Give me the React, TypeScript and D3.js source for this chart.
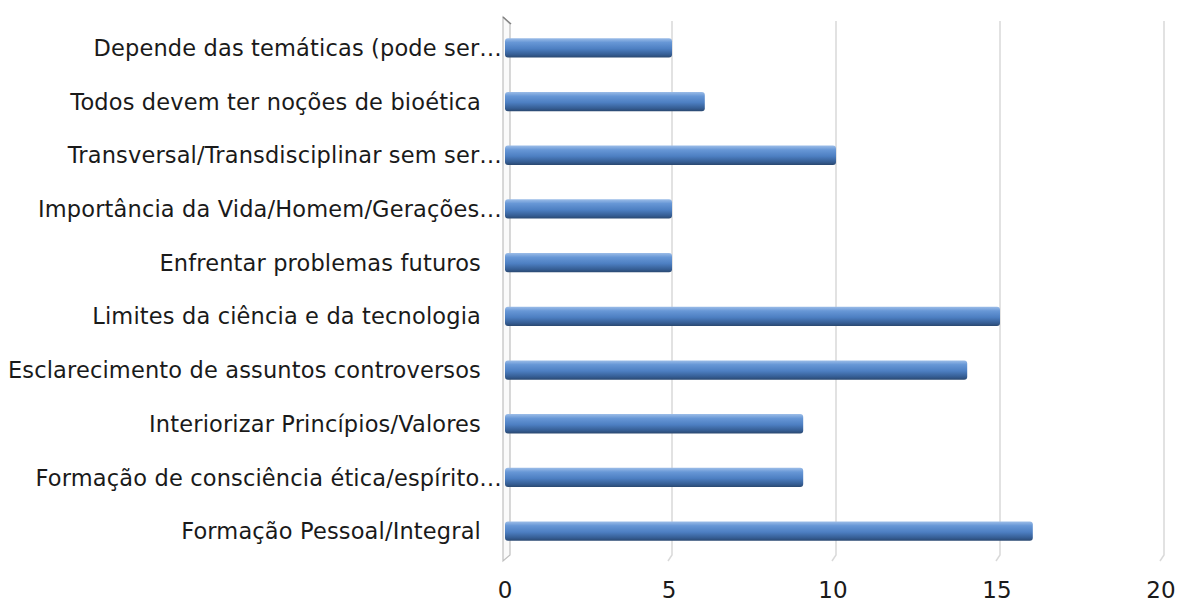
import React, { useRef, useEffect } from "react";
import * as d3 from "d3";

const categories = [
  "Depende das temáticas (pode ser…",
  "Todos devem ter noções de bioética",
  "Transversal/Transdisciplinar sem ser…",
  "Importância da Vida/Homem/Gerações…",
  "Enfrentar problemas futuros",
  "Limites da ciência e da tecnologia",
  "Esclarecimento de assuntos controversos",
  "Interiorizar Princípios/Valores",
  "Formação de consciência ética/espírito…",
  "Formação Pessoal/Integral",
];
const values = [5, 6, 10, 5, 5, 15, 14, 9, 9, 16];
const ticks = [0, 5, 10, 15, 20];

const W = 1187;
const H = 602;

const App: React.FC = () => {
  const ref = useRef<SVGSVGElement>(null);

  useEffect(() => {
    if (!ref.current) return;
    const svg = d3.select(ref.current);
    svg.selectAll("*").remove();

    const font = "'DejaVu Sans', sans-serif";
    const top = 21;
    const bottom = 558;

    const x = d3.scaleLinear().domain([0, 20]).range([508, 1164]);
    const y = d3
      .scaleBand<string>()
      .domain(categories)
      .range([top, bottom])
      .paddingInner(0.64)
      .paddingOuter(0.32);

    const defs = svg.append("defs");
    const grad = defs
      .append("linearGradient")
      .attr("id", "cyl")
      .attr("x1", 0)
      .attr("y1", 0)
      .attr("x2", 0)
      .attr("y2", 1);
    grad.append("stop").attr("offset", "0%").attr("stop-color", "#9cbde8");
    grad.append("stop").attr("offset", "22%").attr("stop-color", "#6797d6");
    grad.append("stop").attr("offset", "55%").attr("stop-color", "#4d7fc2");
    grad.append("stop").attr("offset", "85%").attr("stop-color", "#355d93");
    grad.append("stop").attr("offset", "100%").attr("stop-color", "#2a4870");

    // gridlines with small 3D foot
    const grid = svg.append("g");
    ticks.slice(1).forEach((t) => {
      grid
        .append("path")
        .attr("d", `M${x(t)},${top} L${x(t)},${bottom - 3} L${x(t) - 4},${bottom + 3}`)
        .attr("fill", "none")
        .attr("stroke", "#d9d9d9")
        .attr("stroke-width", 1.5);
    });

    // left 3D wall
    const x0 = x(0);
    grid
      .append("path")
      .attr("d", `M${x0 - 5},${top - 4} L${x0 - 5},${bottom + 3} L${x0 + 2},${bottom - 3} L${x0 + 2},${top + 3} Z`)
      .attr("fill", "#fafafa")
      .attr("stroke", "#bfbfbf")
      .attr("stroke-width", 1.2);
    grid
      .append("line")
      .attr("x1", x0 - 5)
      .attr("y1", top - 4)
      .attr("x2", x0 + 3)
      .attr("y2", top + 3)
      .attr("stroke", "#808080")
      .attr("stroke-width", 1.5);

    // bars
    const bars = svg.append("g");
    categories.forEach((c, i) => {
      const by = y(c)!;
      const bh = y.bandwidth();
      bars
        .append("rect")
        .attr("x", x(0) - 3)
        .attr("y", by)
        .attr("width", x(values[i]) - x(0) + 3)
        .attr("height", bh)
        .attr("rx", 3)
        .attr("fill", "url(#cyl)");
    });

    // category labels
    svg
      .append("g")
      .selectAll("text")
      .data(categories)
      .join("text")
      .attr("x", (d) => (d.endsWith("…") ? 502 : 481))
      .attr("y", (d) => y(d)! + y.bandwidth() / 2)
      .attr("dy", "0.36em")
      .attr("text-anchor", "end")
      .attr("font-family", font)
      .attr("font-size", 22.5)
      .attr("letter-spacing", 0.15)
      .attr("fill", "#1a1a1a")
      .text((d) => d);

    // x tick labels
    svg
      .append("g")
      .selectAll("text")
      .data(ticks)
      .join("text")
      .attr("x", (d) => x(d) - 3)
      .attr("y", 598)
      .attr("text-anchor", "middle")
      .attr("font-family", font)
      .attr("font-size", 23)
      .attr("fill", "#1a1a1a")
      .text((d) => d);
  }, []);

  return (
    <svg
      ref={ref}
      width={W}
      height={H}
      style={{ position: "absolute", left: 0, top: 0, background: "#fff" }}
    ></svg>
  );
};

export default App;
